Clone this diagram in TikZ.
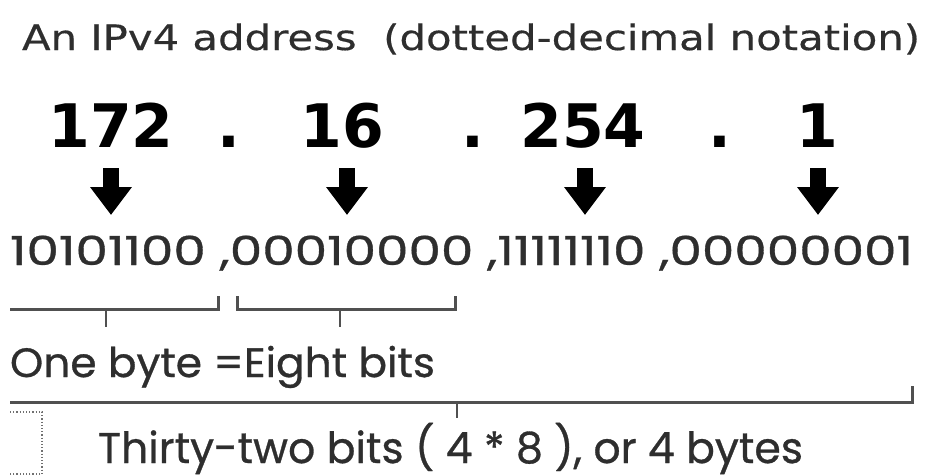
\documentclass[tikz,border=0pt]{standalone}
\usepackage{fontspec}
\usepackage{graphicx}
\setmainfont{DejaVu Sans}
\newfontfamily\titlefont[FakeBold=0.4]{DejaVu Sans}
\newfontfamily\geofont[FakeBold=0.7]{Poppins}
\usetikzlibrary{arrows.meta}
\definecolor{txtgray}{HTML}{2E2E2E}
\definecolor{linegray}{HTML}{505050}
\definecolor{dotgray}{HTML}{707070}
\newcommand{\fitx}[2]{\resizebox{#1}{\height}{#2}}
\tikzset{
  txt/.style={anchor=base west, inner sep=0pt, outer sep=0pt, text=txtgray},
  num/.style={anchor=base, inner sep=0pt, outer sep=0pt, text=black,
              font=\fontsize{60}{60}\selectfont\bfseries},
  bigarrow/.style={draw=black, line width=16pt,
              -{Triangle[width=40pt,length=28pt]}},
  bracket/.style={draw=linegray, line width=3pt},
  tick/.style={draw=linegray, line width=2pt},
  dotbox/.style={draw=dotgray, line width=1.2pt, dotted}
}
\begin{document}
\begin{tikzpicture}[x=1pt,y=-1pt]
\useasboundingbox[fill=white] (0,0) rectangle (927,475);

% title
\node[txt] (title) at (22,50)
  {\fitx{898pt}{\titlefont\fontsize{35}{35}\selectfont An IPv4 address\ \ (dotted-decimal notation)}};

% decimal numbers
\node[num] (n1) at (111,147) {172};
\node[num] (d1) at (229,147) {.};
\node[num] (n2) at (342,147) {16};
\node[num] (d2) at (473,147) {.};
\node[num] (n3) at (583,147) {254};
\node[num] (d3) at (720,147) {.};
\node[num] (n4) at (817,147) {1};

% arrows
\coordinate (a1s) at (111,168); \coordinate (a1e) at (111,215);
\coordinate (a2s) at (347,168); \coordinate (a2e) at (347,215);
\coordinate (a3s) at (585,168); \coordinate (a3e) at (585,215);
\coordinate (a4s) at (818,168); \coordinate (a4e) at (818,215);
\draw[bigarrow] (a1s) -- (a1e);
\draw[bigarrow] (a2s) -- (a2e);
\draw[bigarrow] (a3s) -- (a3e);
\draw[bigarrow] (a4s) -- (a4e);

% binary row
\node[txt] (bin) at (10,265)
  {\fitx{903pt}{\geofont\fontsize{40}{40}\selectfont 10101100 ,00010000 ,11111110 ,00000001}};

% byte brackets
\draw[bracket] (10,309) -- (218,309) -- (218,296);
\draw[tick] (106,309) -- (106,327);
\draw[bracket] (237,296) -- (237,309) -- (455,309) -- (455,296);
\draw[tick] (340,309) -- (340,327);

\node[txt] (byte) at (10,377)
  {\fitx{425pt}{\geofont\fontsize{41}{41}\selectfont One byte =Eight bits}};

% 32-bit bracket
\draw[bracket] (10,402) -- (912,402) -- (912,386);
\draw[tick] (457,402) -- (457,418);

\node[txt] (bits) at (98,463)
  {\fitx{705pt}{\geofont\fontsize{43}{43}\selectfont Thirty-two bits ( 4 * 8 ), or 4 bytes}};

% dotted box fragment
\draw[dotbox] (10,412) -- (42,412) -- (42,474) -- (10,474);
\end{tikzpicture}
\end{document}
